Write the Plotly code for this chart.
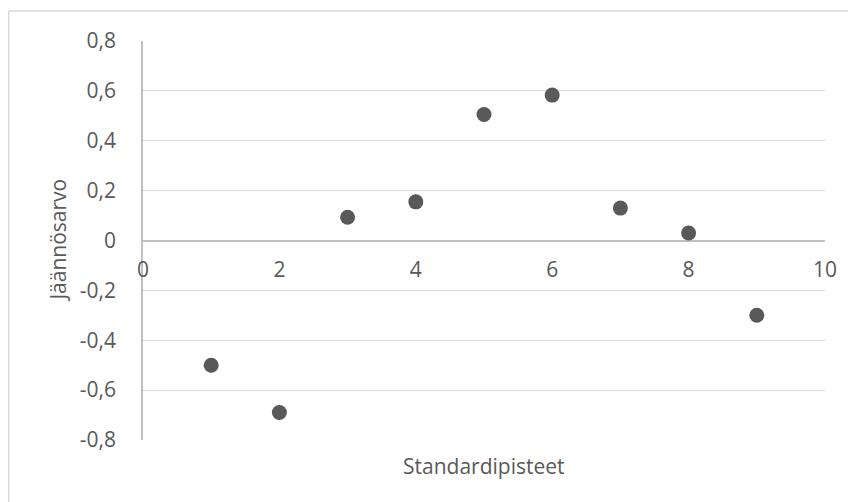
import plotly.graph_objects as go

x_vals = [1, 2, 3, 4, 5, 6, 7, 8, 9]
y_vals = [-0.50, -0.69, 0.093, 0.155, 0.505, 0.583, 0.13, 0.03, -0.30]

x_ticks = [0, 2, 4, 6, 8, 10]
x_tick_labels = ["0", "2", "4", "6", "8", "10"]
y_ticks = [-0.8, -0.6, -0.4, -0.2, 0, 0.2, 0.4, 0.6, 0.8]
y_tick_labels = ["-0,8", "-0,6", "-0,4", "-0,2", "0", "0,2", "0,4", "0,6", "0,8"]

FONT = "Open Sans"
TXT = "#595959"
FS = 21

fig = go.Figure()
fig.add_trace(go.Scatter(
    x=x_vals, y=y_vals, mode="markers",
    marker=dict(size=15, color="#595959", line=dict(width=0)),
    showlegend=False, hoverinfo="x+y",
))

fig.update_layout(
    width=848, height=494,
    margin=dict(l=135, r=31, t=33, b=62),
    paper_bgcolor="white", plot_bgcolor="white",
    font=dict(family=FONT, size=FS, color=TXT),
    xaxis=dict(
        range=[0, 10], tickvals=x_ticks, ticktext=x_tick_labels,
        showgrid=False, zeroline=False, showline=False,
        anchor="free", position=0.5, ticks="",
        ticklabelstandoff=14,
        tickfont=dict(family=FONT, size=FS, color=TXT),
    ),
    yaxis=dict(
        range=[-0.8, 0.8], tickvals=y_ticks, ticktext=y_tick_labels,
        showgrid=True, gridcolor="#d9d9d9", gridwidth=1,
        zeroline=True, zerolinecolor="#bfbfbf", zerolinewidth=1.5,
        showline=True, linecolor="#bfbfbf", linewidth=1.5,
        ticks="", ticklabelstandoff=21,
        tickfont=dict(family=FONT, size=FS, color=TXT),
    ),
    annotations=[
        dict(text="Standardipisteet", xref="paper", yref="paper",
             x=0.5, y=-0.065, xanchor="center", yanchor="middle",
             showarrow=False, font=dict(family=FONT, size=FS, color=TXT)),
        dict(text="Jäännösarvo", xref="paper", yref="paper",
             x=-0.126, y=0.5, xanchor="center", yanchor="middle",
             textangle=-90, showarrow=False,
             font=dict(family=FONT, size=FS, color=TXT)),
    ],
    shapes=[
        dict(type="line", xref="paper", yref="paper",
             x0=-0.1968, x1=1.05, y0=1.0752, y1=1.0752,
             line=dict(color="#d9d9d9", width=1.5)),
        dict(type="line", xref="paper", yref="paper",
             x0=-0.1968, x1=-0.1968, y0=1.0752, y1=-0.16,
             line=dict(color="#d9d9d9", width=1.5)),
    ],
)

fig.write_html("out.html")
